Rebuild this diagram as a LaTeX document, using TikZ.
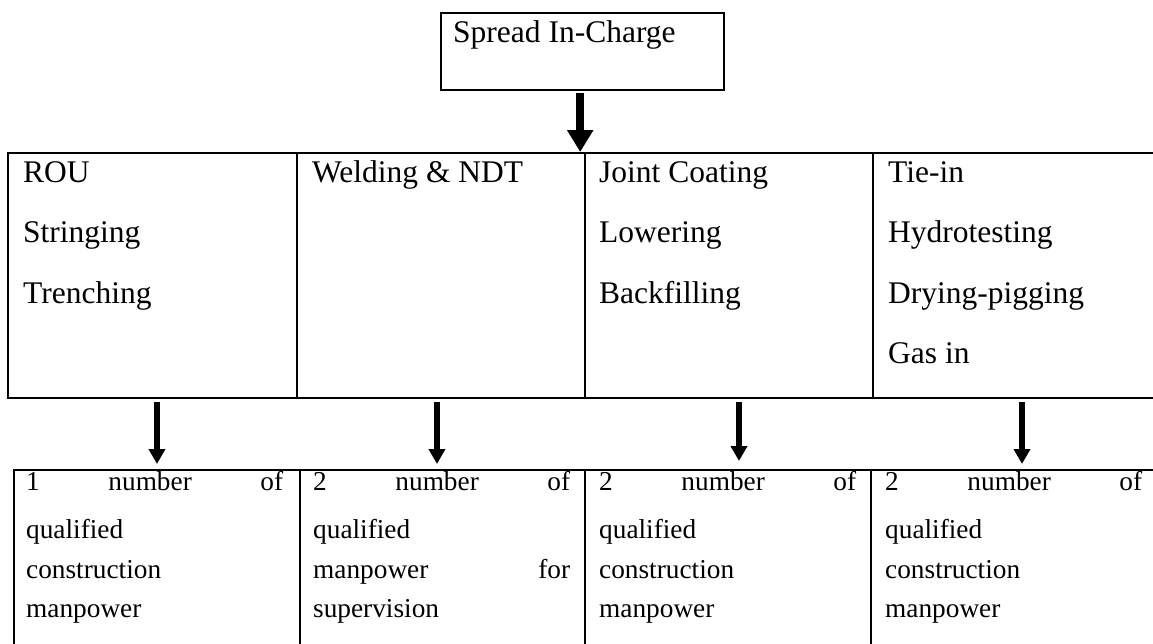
\documentclass[tikz,border=0pt]{standalone}
\usepackage{fontspec}
\setmainfont{Liberation Serif}
\usetikzlibrary{arrows.meta}
\newcommand\midfont{\fontsize{31.5}{37}\selectfont}
\newcommand\lowfont{\fontsize{27.3}{32}\selectfont}
\newcommand\jl[1]{\makebox[257pt][s]{#1}}
\tikzset{
  cellbox/.style={draw, line width=2.4pt, inner sep=0pt, anchor=north west},
  midtxt/.style={anchor=base west, inner sep=0pt, font=\midfont},
  lowtxt/.style={anchor=base west, inner sep=0pt, font=\lowfont},
  bigarr/.style={line width=8.3pt, -{Triangle[length=22pt,width=25pt]}},
  smallarr/.style={line width=6pt, -{Triangle[length=15pt,width=16pt]}}
}
\begin{document}
\begin{tikzpicture}[x=1pt,y=-1pt]
\useasboundingbox (0,0) rectangle (1153,643);
\clip (0,0) rectangle (1153,643);
% top box
\node[cellbox, minimum width=283pt, minimum height=77pt] (top) at (440,12) {};
\node[midtxt] (toptxt) at (453,42) {Spread In-Charge};
% middle row
\node[cellbox, minimum width=289pt, minimum height=245pt] (m1) at (7,152) {};
\node[cellbox, minimum width=288pt, minimum height=245pt] (m2) at (296,152) {};
\node[cellbox, minimum width=288pt, minimum height=245pt] (m3) at (584,152) {};
\node[cellbox, minimum width=300pt, minimum height=245pt] (m4) at (872,152) {};
\node[midtxt] (m1a) at (23,182) {ROU};
\node[midtxt] (m1b) at (23,242) {Stringing};
\node[midtxt] (m1c) at (23,303) {Trenching};
\node[midtxt] (m2a) at (312,182) {Welding \& NDT};
\node[midtxt] (m3a) at (599,182) {Joint Coating};
\node[midtxt] (m3b) at (599,242) {Lowering};
\node[midtxt] (m3c) at (599,303) {Backfilling};
\node[midtxt] (m4a) at (888,182) {Tie-in};
\node[midtxt] (m4b) at (888,242) {Hydrotesting};
\node[midtxt] (m4c) at (888,303) {Drying-pigging};
\node[midtxt] (m4d) at (888,363) {Gas in};
% bottom row
\node[cellbox, minimum width=286pt, minimum height=200pt] (b1) at (13,469) {};
\node[cellbox, minimum width=285pt, minimum height=200pt] (b2) at (299,469) {};
\node[cellbox, minimum width=286pt, minimum height=200pt] (b3) at (584,469) {};
\node[cellbox, minimum width=287pt, minimum height=200pt] (b4) at (870,469) {};
\node[lowtxt] (b1a) at (26,490) {\jl{1 number of}};
\node[lowtxt] (b1b) at (26,538) {qualified};
\node[lowtxt] (b1c) at (26,578) {construction};
\node[lowtxt] (b1d) at (26,617) {manpower};
\node[lowtxt] (b2a) at (313,490) {\jl{2 number of}};
\node[lowtxt] (b2b) at (313,538) {qualified};
\node[lowtxt] (b2c) at (313,578) {\jl{manpower for}};
\node[lowtxt] (b2d) at (313,617) {supervision};
\node[lowtxt] (b3a) at (599,490) {\jl{2 number of}};
\node[lowtxt] (b3b) at (599,538) {qualified};
\node[lowtxt] (b3c) at (599,578) {construction};
\node[lowtxt] (b3d) at (599,617) {manpower};
\node[lowtxt] (b4a) at (885,490) {\jl{2 number of}};
\node[lowtxt] (b4b) at (885,538) {qualified};
\node[lowtxt] (b4c) at (885,578) {construction};
\node[lowtxt] (b4d) at (885,617) {manpower};
% arrows
\coordinate (t0) at ([xshift=-2.5pt]top.south);
\draw[bigarr, shorten <=2pt] (t0) -- (t0 |- m2.north);
\coordinate (a1) at ([xshift=150pt]m1.south west);
\coordinate (a2) at ([xshift=141pt]m2.south west);
\coordinate (a3) at ([xshift=155pt]m3.south west);
\coordinate (a4) at ([xshift=150pt]m4.south west);
\draw[smallarr, shorten <=3pt, shorten >=5pt] (a1) -- (a1 |- b1.north);
\draw[smallarr, shorten <=3pt, shorten >=5pt] (a2) -- (a2 |- b2.north);
\draw[smallarr, shorten <=3pt, shorten >=8pt] (a3) -- (a3 |- b3.north);
\draw[smallarr, shorten <=3pt, shorten >=5pt] (a4) -- (a4 |- b4.north);
\end{tikzpicture}
\end{document}
